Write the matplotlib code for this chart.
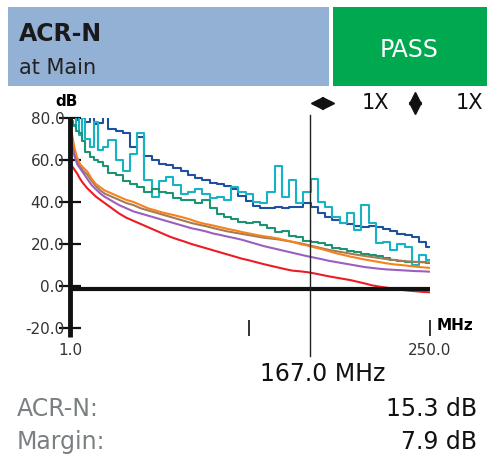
import matplotlib.pyplot as plt
from matplotlib.patches import Rectangle
from matplotlib.lines import Line2D

# frequency grid (MHz) shared by all pair curves
freq = [1, 2, 4, 6, 8, 10, 13, 16, 19, 22,
        25, 30, 35, 40, 45, 50, 55, 60, 65, 70,
        75, 80, 85, 90, 95, 100, 105, 110, 115, 120,
        125, 130, 135, 140, 145, 150, 155, 160, 165, 170,
        175, 180, 185, 190, 195, 200, 205, 210, 215, 220,
        225, 230, 235, 240, 245, 250]

# ACR-N per pair combination (dB)
acr_blue = [80, 82, 82, 79, 82, 81, 78, 82, 77, 77.5,
            82, 75, 74, 73, 66, 71, 62, 60, 58, 57.5,
            56, 55, 53, 51.4, 50.5, 49, 48.5, 47.5, 46, 43,
            40.5, 38, 37.2, 37, 37.5, 37, 37.5, 37.8, 39.5, 37.5,
            35, 33, 31.5, 30, 29.5, 28.8, 28.3, 28.5, 28.3, 27,
            26, 25, 24.2, 23.5, 21, 18.7]
acr_cyan = [80, 78, 76, 82, 72, 80, 70, 66, 78, 65,
            66, 69.5, 60, 55, 63, 73, 50.5, 42.5, 50, 52,
            48, 44, 45, 46, 44, 42, 42.5, 41, 47, 45,
            44, 40, 39.5, 45, 57, 42.5, 50.5, 39.5, 45, 51,
            40, 37.8, 33, 30, 34.7, 26.8, 38.6, 30, 20.5, 21,
            17.3, 20, 18.7, 10, 15, 12.4]
acr_green = [80, 78.5, 76.5, 74, 73, 69, 64, 61.5, 60, 59,
             57, 54, 53, 50, 48.5, 47, 45, 46, 45, 44.5,
             42, 41, 41, 39.5, 41, 37, 34.5, 33, 32, 30.5,
             30, 30.5, 29, 27.5, 25.5, 26, 24, 23.5, 21.5, 21,
             20.5, 19.6, 18, 17.5, 16.5, 16.3, 15.4, 15, 14.2, 13.5,
             12.6, 11.8, 11.5, 11.4, 11.2, 11]
acr_brown = [78, 72, 64, 59.5, 57, 55, 53, 50, 47.5, 45.5,
             44, 42.5, 41, 39.5, 38.5, 37, 36, 35, 34, 33,
             32, 31, 30, 29.2, 28.5, 27.6, 26.8, 26, 25.4, 24.8,
             24.2, 23.6, 23, 22.6, 22.2, 21.6, 21, 20.4, 19.6, 18.8,
             18, 17.2, 16.6, 16, 15.4, 14.8, 14.3, 13.8, 13.3, 12.8,
             12.4, 12, 11.7, 11.5, 11.3, 11.2]
acr_orange = [80, 74, 66, 61, 58, 56.5, 54.5, 51, 48.5, 47,
              45.5, 44, 42.5, 41, 40, 38.5, 37, 36, 35, 34.2,
              33.4, 32.5, 31.5, 30.3, 29.5, 28.8, 28, 27.2, 26.5, 25.7,
              25, 24.3, 23.7, 23.2, 22.6, 21.8, 21, 20, 19.3, 18.4,
              17.6, 16.6, 15.6, 14.8, 14, 13.3, 12.6, 12, 11.4, 10.8,
              10.3, 10, 9.6, 9.2, 8.9, 8.6]
acr_purple = [74, 68, 62, 58, 56, 54, 51, 48, 46, 44,
              42.5, 40.5, 38.5, 37, 35.5, 34.5, 33.5, 32.5, 31.5, 30.5,
              29.5, 28.5, 27.5, 26.8, 26, 25, 24.3, 23.5, 22.8, 22,
              21, 20, 19, 18.2, 17.4, 16.6, 15.8, 15, 14.2, 13.5,
              12.8, 12, 11.4, 10.8, 10.2, 9.6, 9, 8.6, 8.2, 7.9,
              7.7, 7.5, 7.3, 7.1, 7, 6.8]
acr_red = [59, 57.5, 55.5, 53.5, 51, 49, 46.5, 44.5, 42.5, 41,
           39.5, 37, 34.5, 32.5, 31, 29.5, 28, 26.5, 25, 23.5,
           22.3, 21.2, 20, 19, 18, 17, 16, 15, 14, 13,
           12.2, 11.3, 10.4, 9.6, 8.8, 8, 7.3, 7, 6.6, 6,
           5.3, 4.6, 4, 3.4, 2.8, 2, 1.2, 0.3, -0.3, -0.8,
           -1.3, -1.8, -2.2, -2.5, -2.8, -3]

yticks = [-20, 0, 20, 40, 60, 80]
ytick_labels = ['-20.0', '0.0', '20.0', '40.0', '60.0', '80.0']
xticks = [1, 125, 250]
xtick_labels = ['1.0', '', '250.0']

limit_db = -1.5
cursor_mhz = 167.0
acr_n_db = 15.3
margin_db = 7.9

W, H = 487, 466


def fx(px):
    return px / W


def fy(py):
    return 1 - py / H


fig = plt.figure(figsize=(W / 100, H / 100), dpi=100)
fig.patch.set_facecolor('white')

# header bar
fig.add_artist(Rectangle((fx(8), fy(86)), 321 / W, 79 / H, transform=fig.transFigure,
                         facecolor='#93b0d5', edgecolor='none'))
fig.add_artist(Rectangle((fx(333), fy(86)), 154 / W, 79 / H, transform=fig.transFigure,
                         facecolor='#00a94f', edgecolor='none'))
fig.text(fx(19), fy(34), 'ACR-N', fontsize=17, fontweight='bold', color='#1a1a1a', va='center')
fig.text(fx(19), fy(68), 'at Main', fontsize=15, color='#222222', va='center')
fig.text(fx(409), fy(50), 'PASS', fontsize=17, color='white', va='center', ha='center')

# chart
ax = fig.add_axes([fx(70), fy(328), 360 / W, 210 / H])
ax.set_xlim(1, 250)
ax.set_ylim(-20, 80)
for s in ax.spines.values():
    s.set_visible(False)

series = [
    (acr_blue, '#1f4f9e', 'steps-mid'),
    (acr_cyan, '#17b3c4', 'steps-mid'),
    (acr_green, '#1c9474', 'steps-mid'),
    (acr_brown, '#a57c52', 'default'),
    (acr_orange, '#f5821f', 'default'),
    (acr_purple, '#9b5fc0', 'default'),
    (acr_red, '#ed1c24', 'default'),
]
for vals, col, ds in series:
    ax.plot(freq, vals, color=col, lw=1.5, drawstyle=ds)

ax.plot([freq[0], freq[-1]], [limit_db, limit_db], color='#111111', lw=3, solid_capstyle='butt')
ax.plot([freq[0], freq[0]], [80.5, -24.5], color='#111111', lw=3.5,
        clip_on=False, solid_capstyle='butt')
ax.plot([cursor_mhz, cursor_mhz], [81.5, -33.5], color='#222222', lw=1, clip_on=False)

ax.set_yticks(yticks, ytick_labels)
ax.tick_params(axis='y', direction='inout', length=16, width=1.6, color='#111111',
               pad=-4, labelsize=11, labelcolor='#333333')
ax.set_xticks(xticks, xtick_labels)
ax.tick_params(axis='x', direction='inout', length=12, width=1.2, color='#111111',
               pad=5, labelsize=11, labelcolor='#333333')
ax.xaxis.get_major_ticks()[0].tick1line.set_visible(False)

fig.text(fx(67), fy(102), 'dB', fontsize=11, fontweight='bold', ha='center', va='center')
fig.text(fx(437), fy(325), 'MHz', fontsize=11, fontweight='bold', ha='left', va='center')

# zoom indicators
for mk, xx, yy in [('<', 317, 103), ('>', 328, 103), ('^', 415, 98), ('v', 415, 108)]:
    fig.add_artist(Line2D([fx(xx)], [fy(yy)], marker=mk, markersize=9, color='#111111',
                          linestyle='none', transform=fig.transFigure))
fig.text(fx(375), fy(103), '1X', fontsize=15, ha='center', va='center', color='#111111')
fig.text(fx(469), fy(103), '1X', fontsize=15, ha='center', va='center', color='#111111')

# readouts
fig.text(fx(323), fy(374), f'{cursor_mhz:.1f} MHz', fontsize=17, ha='center', va='center',
         color='#111111')
fig.text(fx(17), fy(409), 'ACR-N:', fontsize=17, ha='left', va='center', color='#7a8082')
fig.text(fx(17), fy(442), 'Margin:', fontsize=17, ha='left', va='center', color='#7a8082')
fig.text(fx(477), fy(409), f'{acr_n_db:.1f} dB', fontsize=17, ha='right', va='center',
         color='#111111')
fig.text(fx(477), fy(442), f'{margin_db:.1f} dB', fontsize=17, ha='right', va='center',
         color='#111111')

fig.savefig('out.png', dpi=100)
